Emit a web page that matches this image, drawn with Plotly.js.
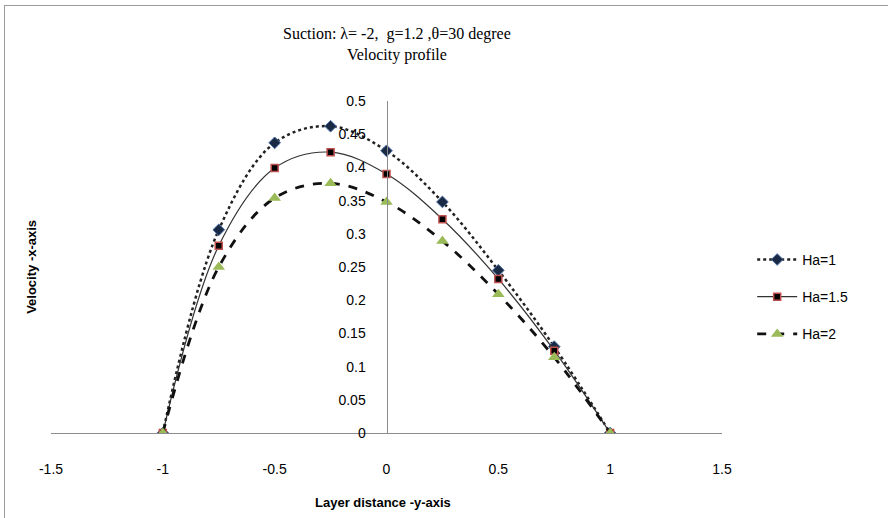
<!DOCTYPE html>
<html><head><meta charset="utf-8">
<script src="https://cdn.plot.ly/plotly-3.0.1.min.js"></script>
<style>
html,body{margin:0;padding:0;background:#fff;overflow:hidden;}
#frame{position:absolute;left:4px;top:5px;width:900px;height:530px;border:1px solid #9a9a9a;}
#chart{position:absolute;left:0;top:0;width:888px;height:518px;}
</style></head>
<body>
<div id="frame"></div>
<div id="chart"></div>
<script>
const layerDistance = [-1, -0.75, -0.5, -0.25, 0, 0.25, 0.5, 0.75, 1];
const velHa1   = [0, 0.306, 0.437, 0.462, 0.425, 0.348, 0.245, 0.130, 0];
const velHa15  = [0, 0.282, 0.399, 0.423, 0.390, 0.322, 0.232, 0.124, 0];
const velHa2   = [0, 0.250, 0.354, 0.376, 0.348, 0.289, 0.209, 0.114, 0];
const seriesNames = ['Ha=1', 'Ha=1.5', 'Ha=2'];
const xTicks = [-1.5, -1, -0.5, 0, 0.5, 1, 1.5];
const yTicks = [0, 0.05, 0.1, 0.15, 0.2, 0.25, 0.3, 0.35, 0.4, 0.45, 0.5];

const traces = [
  {x: layerDistance, y: velHa1, name: seriesNames[0], legendgroup: 'a', mode: 'lines+markers',
   line: {shape: 'spline', smoothing: 1, color: '#222', width: 2.5, dash: 'dot'},
   marker: {symbol: 'diamond', size: 9, color: '#1b2a44', line: {color: '#4a6fa5', width: 1}}},
  {x: layerDistance, y: velHa15, name: seriesNames[1], legendgroup: 'b', mode: 'lines+markers',
   line: {shape: 'spline', smoothing: 1, color: '#333', width: 1.2},
   marker: {symbol: 'square', size: 7, color: '#000', line: {color: '#c0504d', width: 1.5}}},
  {x: layerDistance, y: velHa2, name: seriesNames[2], legendgroup: 'c', mode: 'lines+markers',
   line: {shape: 'spline', smoothing: 1, color: '#111', width: 2.8, dash: 'dash'},
   marker: {symbol: 'triangle-up', size: 11, color: '#9bbb59'}}
];

const tickFont = {family: 'Liberation Sans, Arial, sans-serif', size: 14, color: '#000'};

const layout = {
  width: 888, height: 518,
  margin: {l: 51, r: 166, t: 101, b: 85},
  paper_bgcolor: 'rgba(0,0,0,0)', plot_bgcolor: 'rgba(0,0,0,0)',
  xaxis: {range: [-1.5, 1.5], tickvals: xTicks, ticktext: xTicks.map(String),
          showgrid: false, zeroline: false, showline: true, linecolor: '#8c8c8c', linewidth: 1.3,
          ticks: '', ticklabelstandoff: 23, tickfont: tickFont, fixedrange: true},
  yaxis: {range: [0, 0.5], tickvals: yTicks, ticktext: yTicks.map(String),
          anchor: 'free', position: 0.5, side: 'left',
          showgrid: false, zeroline: false, showline: true, linecolor: '#8c8c8c', linewidth: 1.3,
          ticks: '', ticklabelstandoff: 18, tickfont: tickFont, fixedrange: true},
  showlegend: true,
  legend: {x: 1.045, xanchor: 'left', y: 0.41, yanchor: 'middle', traceorder: 'grouped', tracegroupgap: 16,
           font: {family: 'Liberation Sans, Arial, sans-serif', size: 14, color: '#000'},
           itemwidth: 40, bgcolor: 'rgba(0,0,0,0)'},
  annotations: [
    {text: 'Suction: λ= -2,  g=1.2 ,θ=30 degree<br>Velocity profile', xref: 'paper', yref: 'paper',
     x: 0.5157, y: 1.1687, xanchor: 'center', yanchor: 'middle', showarrow: false, align: 'center',
     font: {family: 'Liberation Serif, Times New Roman, serif', size: 16, color: '#000'}},
    {text: '<b>Velocity -x-axis</b>', xref: 'paper', yref: 'paper', x: -0.03, y: 0.5,
     xanchor: 'center', yanchor: 'middle', textangle: -90, showarrow: false,
     font: {family: 'Liberation Sans, Arial, sans-serif', size: 13, color: '#000'}},
    {text: '<b>Layer distance -y-axis</b>', xref: 'paper', yref: 'paper', x: 0.495, y: -0.21,
     xanchor: 'center', yanchor: 'middle', showarrow: false,
     font: {family: 'Liberation Sans, Arial, sans-serif', size: 13, color: '#000'}}
  ]
};

Plotly.newPlot('chart', traces, layout, {displayModeBar: false, staticPlot: true});
</script>
</body></html>
